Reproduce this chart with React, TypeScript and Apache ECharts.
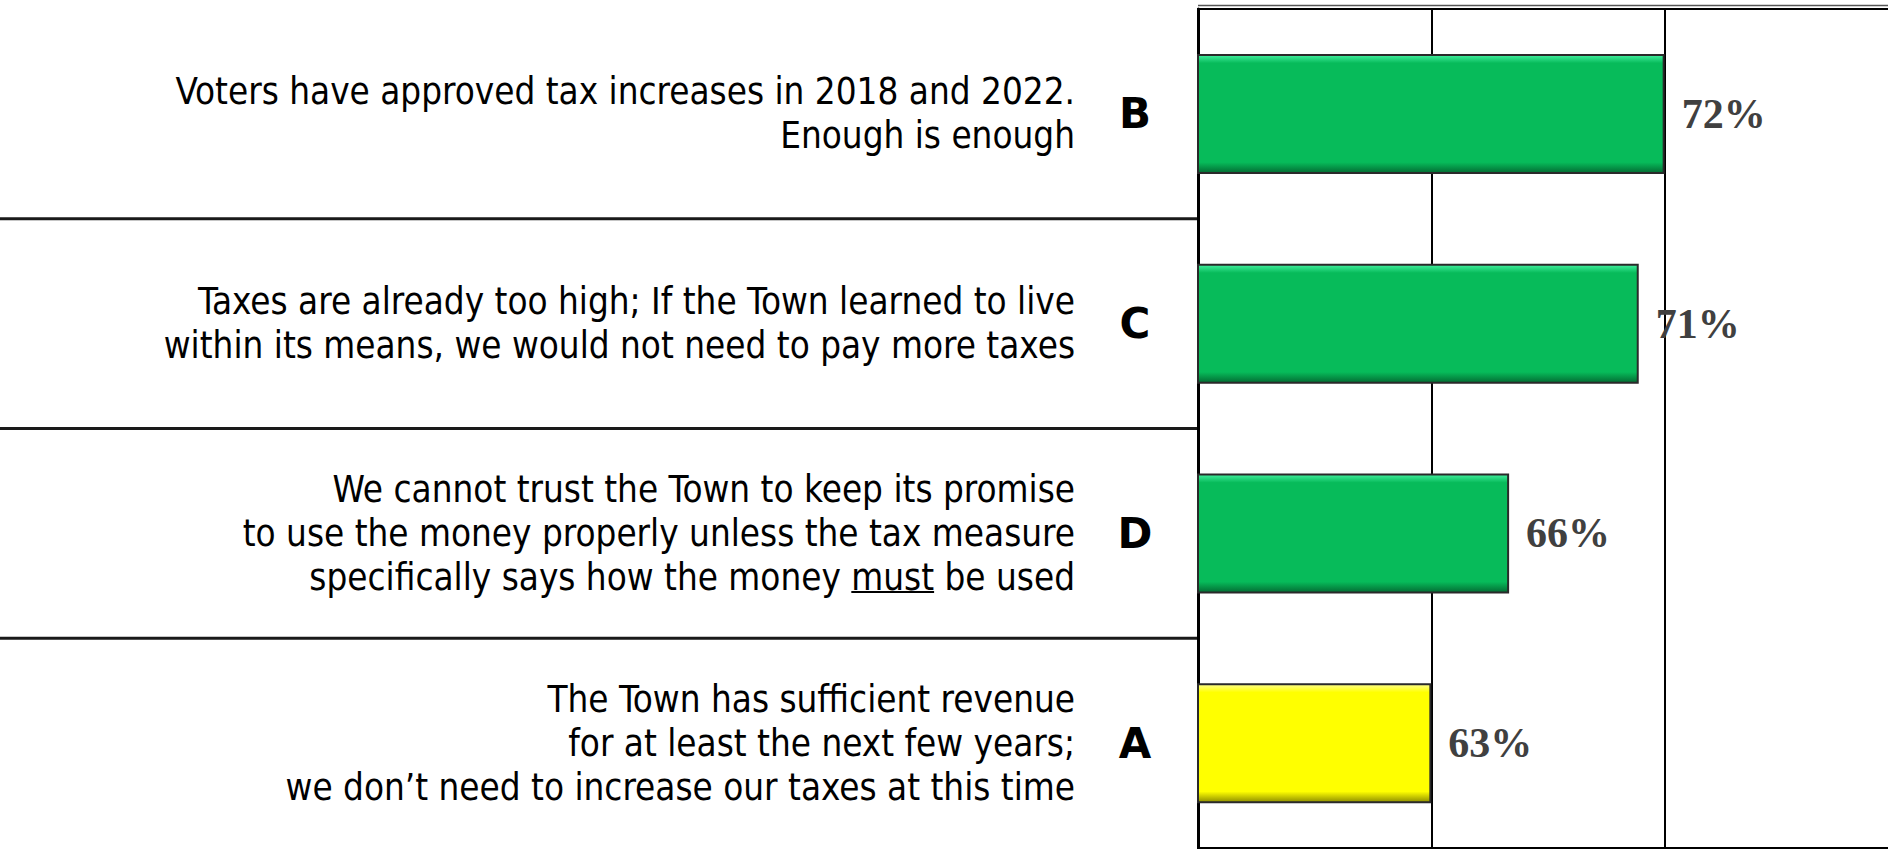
import React, { useEffect, useRef } from 'react';
import * as echarts from 'echarts';

// ---- data ----
const letters = ['B', 'C', 'D', 'A'];
const statements = [
  'Voters have approved tax increases in 2018 and 2022.\nEnough is enough',
  'Taxes are already too high; If the Town learned to live\nwithin its means, we would not need to pay more taxes',
  'We cannot trust the Town to keep its promise\nto use the money properly unless the tax measure\nspecifically says how the money must be used',
  'The Town has sufficient revenue\nfor at least the next few years;\nwe don\u2019t need to increase our taxes at this time',
];
const values = [72, 71, 66, 63];
const underlinedWord = 'must';
const highlightLetter = 'A';
const axisMin = 54;
const axisMax = 81;
const axisInterval = 9;

const W = 1888;
const H = 849;

const descFont = '"DejaVu Sans Condensed", "DejaVu Sans", sans-serif';
const descSize = 36.5;
const descLine = 44;

function bevel(top: string, mid: string, bottom: string) {
  return new echarts.graphic.LinearGradient(0, 0, 0, 1, [
    { offset: 0, color: top },
    { offset: 0.07, color: mid },
    { offset: 0.91, color: mid },
    { offset: 1, color: bottom },
  ]);
}

export default function App() {
  const ref = useRef<HTMLDivElement>(null);

  useEffect(() => {
    if (!ref.current) return;
    const chart = echarts.init(ref.current, null, { renderer: 'svg' });
    const green = bevel('#45f0a0', '#07bb5a', '#036c33');
    const yellow = bevel('#ffff90', '#ffff00', '#8f8f00');
    const underline = new echarts.graphic.LinearGradient(0, 0, 0, 1, [
      { offset: 0, color: 'rgba(0,0,0,0)' },
      { offset: 0.87, color: 'rgba(0,0,0,0)' },
      { offset: 0.87, color: '#000' },
      { offset: 0.92, color: '#000' },
      { offset: 0.92, color: 'rgba(0,0,0,0)' },
      { offset: 1, color: 'rgba(0,0,0,0)' },
    ]);

    chart.setOption({
      animation: false,
      backgroundColor: '#fff',
      grid: {
        left: 1198,
        right: -10,
        top: 9,
        bottom: 1,
        show: true,
        borderColor: '#000',
        borderWidth: 2,
        containLabel: false,
        outerBoundsMode: 'none',
      },
      xAxis: {
        type: 'value',
        min: axisMin,
        max: axisMax,
        interval: axisInterval,
        axisLabel: { show: false },
        axisTick: { show: false },
        axisLine: { show: false },
        splitLine: { show: true, lineStyle: { color: '#000', width: 2 } },
      },
      yAxis: [
        {
          type: 'category',
          position: 'left',
          inverse: true,
          data: letters,
          axisLine: { show: true, lineStyle: { color: '#000', width: 3 } },
          axisTick: { show: false },
          axisLabel: {
            margin: 123,
            align: 'right',
            color: '#000',
            fontFamily: descFont,
            fontSize: descSize,
            lineHeight: descLine,
            formatter: (_v: string, i: number) =>
              statements[i].replace(underlinedWord, '{u|' + underlinedWord + '}'),
            rich: {
              u: {
                color: '#000',
                fontFamily: descFont,
                fontSize: descSize,
                lineHeight: descLine,
                backgroundColor: underline,
              },
            },
          },
        },
        {
          type: 'category',
          position: 'left',
          offset: 0,
          inverse: true,
          data: letters,
          axisLine: { show: false },
          axisTick: { show: false },
          axisLabel: {
            margin: 63,
            align: 'center',
            color: '#000',
            fontFamily: '"DejaVu Sans", sans-serif',
            fontWeight: 900,
            fontSize: 42,
          },
        },
      ],
      series: [
        {
          type: 'bar',
          yAxisIndex: 0,
          data: values,
          barWidth: 120,
          itemStyle: {
            color: (p: any) => (letters[p.dataIndex] === highlightLetter ? yellow : green),
            borderColor: '#2a2a2a',
            borderWidth: 2,
          },
          label: {
            show: true,
            position: 'right',
            distance: 17,
            formatter: '{c}%',
            fontFamily: '"Liberation Serif", "Times New Roman", serif',
            fontWeight: 'bold',
            fontSize: 42,
            color: '#404040',
          },
        },
      ],
    });

    // separators between the category rows, derived from the category scale
    const ys = letters.map((l) => chart.convertToPixel({ yAxisIndex: 0 }, l) as number);
    const x0 = chart.convertToPixel({ xAxisIndex: 0 }, axisMin) as number;
    const band = ys.length > 1 ? ys[1] - ys[0] : 0;
    const graphics: any[] = [];
    for (let i = 0; i < ys.length - 1; i++) {
      const y = (ys[i] + ys[i + 1]) / 2;
      graphics.push({
        type: 'line',
        shape: { x1: 0, y1: y, x2: x0, y2: y },
        style: { stroke: '#1a1a1a', lineWidth: 3 },
      });
    }
    const topY = ys[0] - band / 2 - 3.5;
    graphics.push({
      type: 'line',
      shape: { x1: x0, y1: topY, x2: W, y2: topY },
      style: { stroke: '#555', lineWidth: 1.5 },
    });
    chart.setOption({ graphic: graphics });

    return () => chart.dispose();
  }, []);

  return (
    <div
      ref={ref}
      style={{ position: 'fixed', left: 0, top: 0, width: W, height: H, background: '#fff' }}
    />
  );
}
